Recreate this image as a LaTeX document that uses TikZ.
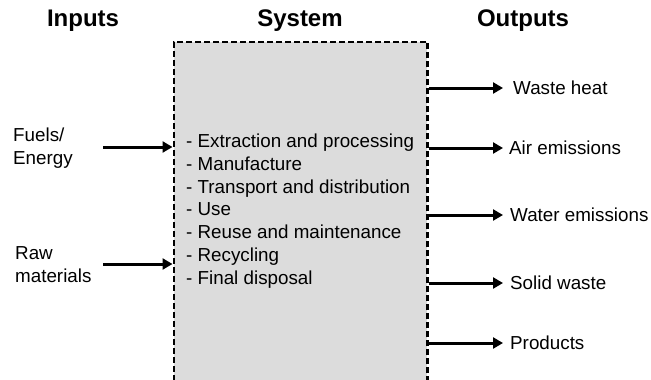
\documentclass[tikz,border=0pt]{standalone}
\usepackage{fontspec}
\setmainfont{Liberation Sans}
\usetikzlibrary{arrows.meta,calc}
\definecolor{boxgray}{HTML}{DCDCDC}
\tikzset{
  title/.style={font=\bfseries\fontsize{24}{28}\selectfont, anchor=center},
  label/.style={font=\fontsize{18.8}{22.8}\selectfont, inner sep=0pt},
  flow/.style={line width=3pt, -{Triangle[length=10pt,width=11pt]}},
  sysbox/.style={draw, fill=boxgray, line width=2.6pt, dash pattern=on 6pt off 3pt,
                 minimum width=253.5pt, minimum height=339pt, inner sep=0pt}
}
\begin{document}
\begin{tikzpicture}[x=1pt,y=-1pt]
  \useasboundingbox (0,0) rectangle (651,380);

  % column titles
  \node[title] (tin)  at (83,21)  {Inputs};
  \node[title] (tsys) at (300,21) {System};
  \node[title] (tout) at (523,21) {Outputs};

  % system box with the life-cycle stages
  \node[sysbox, anchor=north west] (box) at (172.5,40.5) {};
  \node[label, anchor=west, align=left] (stages) at (186,211) {%
    - Extraction and processing\\
    - Manufacture\\
    - Transport and distribution\\
    - Use\\
    - Reuse and maintenance\\
    - Recycling\\
    - Final disposal};

  % inputs
  \node[label, anchor=west, align=left] (fuel) at (13,148) {Fuels/\\Energy};
  \node[label, anchor=west, align=left] (raw)  at (15,265) {Raw\\materials};
  \coordinate (fin) at (103,147);
  \coordinate (rin) at (103,264);
  \draw[flow] (fin) -- (fin -| box.west);
  \draw[flow] (rin) -- (rin -| box.west);

  % outputs
  \foreach \name/\y/\x/\txt in {heat/88/513/Waste heat,
                                air/148/509/Air emissions,
                                water/215/510/Water emissions,
                                solid/283/510/Solid waste,
                                prod/343/510/Products}{
    \coordinate (\name-tip) at (503,\y);
    \node[label, anchor=west] (\name) at (\x,\y) {\txt};
    \draw[flow] (box.east |- \name-tip) -- (\name-tip);
  }
\end{tikzpicture}
\end{document}
